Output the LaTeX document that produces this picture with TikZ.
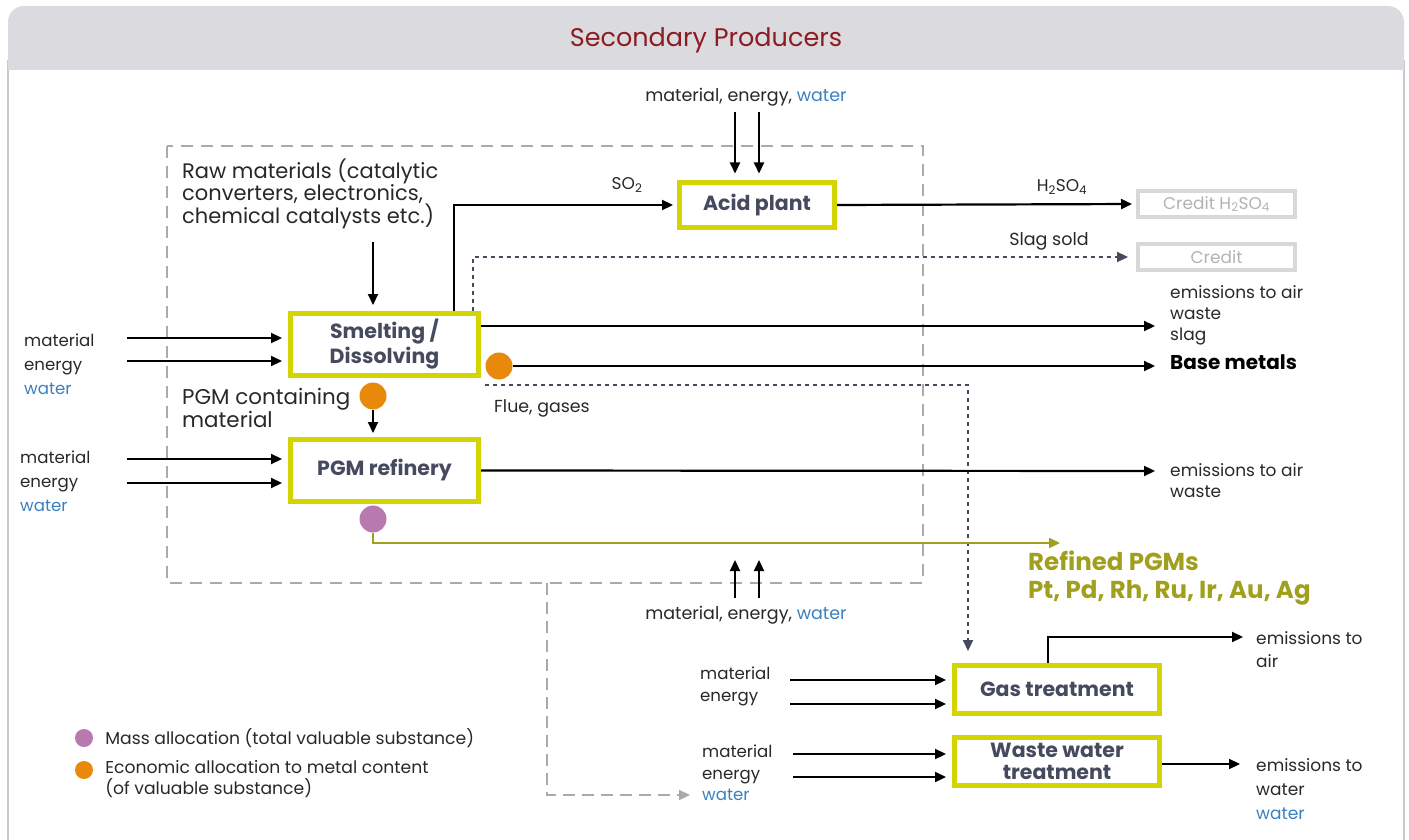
\documentclass[tikz,border=0pt]{standalone}
\usepackage{fontspec}
\setmainfont{Poppins}
\usetikzlibrary{arrows.meta,positioning}
\definecolor{titlered}{RGB}{140,28,34}
\definecolor{boxlime}{RGB}{212,212,0}
\definecolor{labelslate}{RGB}{69,74,94}
\definecolor{waterblue}{RGB}{58,128,192}
\definecolor{massviolet}{RGB}{184,122,174}
\definecolor{econorange}{RGB}{232,137,12}
\definecolor{pgmolive}{RGB}{160,160,30}
\definecolor{headgray}{RGB}{219,219,223}
\definecolor{framegray}{RGB}{200,200,208}
\definecolor{dashgray}{RGB}{170,170,170}
\definecolor{creditgray}{RGB}{216,216,216}
\definecolor{credittext}{RGB}{178,178,178}
\definecolor{textdark}{RGB}{40,40,40}
\newcommand{\wat}{\textcolor{waterblue}{water}}

\begin{document}
\begin{tikzpicture}[x=1pt,y=-1pt,
        proc/.style={draw=boxlime,line width=5pt,fill=white,align=center,
                     font=\fontsize{20.5}{22}\selectfont\bfseries,text=labelslate},
        credit/.style={draw=creditgray,line width=4pt,minimum width=157pt,
                       minimum height=26pt,inner sep=0pt,text=credittext,
                       font=\fontsize{17}{18}\selectfont},
        dot/.style={circle,inner sep=0pt,minimum size=27pt},
        lbl/.style={anchor=west,align=left,inner sep=0pt,text=textdark,
                    font=\fontsize{16.6}{24}\selectfont},
        flow/.style={-{Triangle[length=11pt,width=10pt]},line width=2.2pt,shorten >=4pt},
        dotflow/.style={flow,draw=labelslate,dash pattern=on 4pt off 4pt},
        retflow/.style={flow,draw=dashgray,dash pattern=on 12pt off 7pt},
        olflow/.style={flow,draw=pgmolive,shorten >=0pt}]
  \useasboundingbox (0,0) rectangle (1409,840);
  % frame and header
  \draw[framegray,line width=2pt] (8,60) -- (8,840) (1404,60) -- (1404,840);
  \fill[headgray] (8,70) {[rounded corners=16pt] -- (8,6) -- (1404,6)} -- (1404,70) -- cycle;
  \node[text=titlered,font=\fontsize{25.5}{28}\selectfont] (title) at (706,40) {Secondary Producers};
  % system boundary
  \draw[dashgray,line width=2.5pt,dash pattern=on 12pt off 8pt] (167,146) rectangle (923,583);

  % processes
  \node[proc,minimum width=155pt,minimum height=44pt] (acid) at (757,205) {Acid plant};
  \node[proc,minimum width=188pt,minimum height=62pt,font=\fontsize{20.5}{25}\selectfont\bfseries]
       (smelt) at (384.5,344.5) {Smelting /\\Dissolving};
  \node[proc,minimum width=188pt,minimum height=62pt] (refine) at (384.5,470.5) {PGM refinery};
  \node[proc,minimum width=205pt,minimum height=48pt] (gas) at (1057,689.5) {Gas treatment};
  \node[proc,minimum width=205pt,minimum height=48pt] (wwt) at (1057,761.5) {Waste water\\treatment};
  \node[credit] (credH) at (1216.5,204) {Credit H\textsubscript{2}SO\textsubscript{4}};
  \node[credit] (credS) at (1216.5,257) {Credit};

  % allocation points
  \node[dot,fill=econorange] (oBase) at (499,366) {};
  \node[dot,fill=econorange] (oPGM) at (373,396) {};
  \node[dot,fill=massviolet] (mPGM) at (373,519) {};

  % texts
  \node[lbl,anchor=center,font=\fontsize{17.5}{21}\selectfont] (acidInL) at (746,97) {material, energy, \wat};
  \node[lbl,anchor=center,font=\fontsize{17.5}{21}\selectfont] (botInL) at (746,615) {material, energy, \wat};
  \node[lbl,anchor=north west,font=\fontsize{21}{21.5}\selectfont] (raw) at (182,159)
       {Raw materials (catalytic\\converters, electronics,\\chemical catalysts etc.)};
  \node[lbl] (smeltInL) at (24,364) {material\\energy\\\wat};
  \node[lbl] (refInL) at (20,481) {material\\energy\\\wat};
  \node[lbl,font=\fontsize{21.4}{22}\selectfont] (pgmCont) at (182,408) {PGM containing\\material};
  \node[lbl,font=\fontsize{17}{21}\selectfont] (smeltOutL) at (1170,315) {emissions to air\\waste\\slag};
  \node[lbl,font=\fontsize{20}{22}\selectfont\bfseries,text=black] (baseL) at (1170,362) {Base metals};
  \node[lbl,font=\fontsize{17}{21}\selectfont] (refOutL) at (1170,481) {emissions to air\\waste};
  \node[lbl,font=\fontsize{24.5}{28}\selectfont\bfseries,text=pgmolive] (pgmL) at (1028,578)
       {Refined PGMs\\Pt, Pd, Rh, Ru, Ir, Au, Ag};
  \node[lbl,font=\fontsize{17.4}{21}\selectfont] (flueL) at (494,408) {Flue, gases};
  \node[lbl,anchor=center,font=\fontsize{17.5}{21}\selectfont] (slagL) at (1049,241) {Slag sold};
  \node[lbl,anchor=center,font=\fontsize{17}{21}\selectfont] (h2so4L) at (1062,187) {H\textsubscript{2}SO\textsubscript{4}};
  \node[lbl,anchor=center,font=\fontsize{17}{21}\selectfont] (so2L) at (627,185) {SO\textsubscript{2}};
  \node[lbl,font=\fontsize{16.6}{22}\selectfont] (gasInL) at (700,686) {material\\energy};
  \node[lbl,font=\fontsize{16.6}{21.5}\selectfont] (wwtInL) at (702,773) {material\\energy\\\wat};
  \node[lbl,font=\fontsize{17}{23}\selectfont] (gasOutL) at (1256,650) {emissions to\\air};
  \node[lbl,font=\fontsize{17}{24}\selectfont] (wwtOutL) at (1256,789) {emissions to\\water\\\wat};
  % legend
  \node[dot,minimum size=18pt,fill=massviolet] (legM) at (84,738) {};
  \node[dot,minimum size=18pt,fill=econorange] (legE) at (84,770) {};
  \node[lbl,right=12pt of legM,font=\fontsize{17.2}{21}\selectfont] (legMT) {Mass allocation (total valuable substance)};
  \node[lbl,right=12pt of legE,anchor=north west,yshift=10pt,font=\fontsize{17.2}{21}\selectfont] (legET)
       {Economic allocation to metal content\\(of valuable substance)};

  % free ends
  \coordinate (acidIn1) at (735,112); \coordinate (acidIn2) at (759,112);
  \coordinate (rawIn) at (373,242);
  \coordinate (smIn1) at (127,338); \coordinate (smIn2) at (127,361);
  \coordinate (rfIn1) at (127,459); \coordinate (rfIn2) at (127,483);
  \coordinate (smOut) at (1159,326); \coordinate (baseOut) at (1159,366);
  \coordinate (rfOut) at (1159,471); \coordinate (pgmOut) at (1060,543);
  \coordinate (flueStart) at (485,385);
  \coordinate (botIn1) at (735,598); \coordinate (botIn2) at (759,598);
  \coordinate (retStart) at (547,583); \coordinate (retEnd) at (694,795);
  \coordinate (gIn1) at (790,680); \coordinate (gIn2) at (790,704);
  \coordinate (wIn1) at (793,754); \coordinate (wIn2) at (793,777);
  \coordinate (gasOut) at (1247,637); \coordinate (wwOut) at (1244,764);

  % flows
  \draw[flow,shorten >=7pt] (acidIn1) -- (acidIn1 |- acid.north);
  \draw[flow,shorten >=7pt] (acidIn2) -- (acidIn2 |- acid.north);
  \draw[flow,shorten >=6pt] (rawIn) -- (rawIn |- smelt.north);
  \draw[flow] ([xshift=69.5pt]smelt.north) |- (acid.west);
  \draw[flow] (acid.east) -- (credH.west);
  \draw[dotflow,shorten >=8pt] ([xshift=88.5pt]smelt.north) |- (credS.west);
  \draw[flow] (smelt.east |- smOut) -- (smOut);
  \draw[flow] (oBase) -- (baseOut);
  \draw[dotflow,shorten >=12pt] (flueStart) -| ([xshift=-89pt]gas.north);
  \foreach \i in {smIn1,smIn2} \draw[flow,shorten >=6pt] (\i) -- (\i -| smelt.west);
  \foreach \i in {rfIn1,rfIn2} \draw[flow,shorten >=6pt] (\i) -- (\i -| refine.west);
  \draw[flow] (oPGM) -- (oPGM |- refine.north);
  \draw[flow] (refine.east) -- (rfOut);
  \draw[olflow] (mPGM) |- (pgmOut);
  \draw[flow,shorten >=0pt] (botIn1) -- ++(0,-38);
  \draw[flow,shorten >=0pt] (botIn2) -- ++(0,-38);
  \draw[retflow] (retStart) |- (retEnd);
  \foreach \i in {gIn1,gIn2} \draw[flow,shorten >=6pt] (\i) -- (\i -| gas.west);
  \foreach \i in {wIn1,wIn2} \draw[flow,shorten >=6pt] (\i) -- (\i -| wwt.west);
  \draw[flow] ([xshift=-9pt]gas.north) |- (gasOut);
  \draw[flow] (wwt.east |- wwOut) -- (wwOut);
\end{tikzpicture}
\end{document}
